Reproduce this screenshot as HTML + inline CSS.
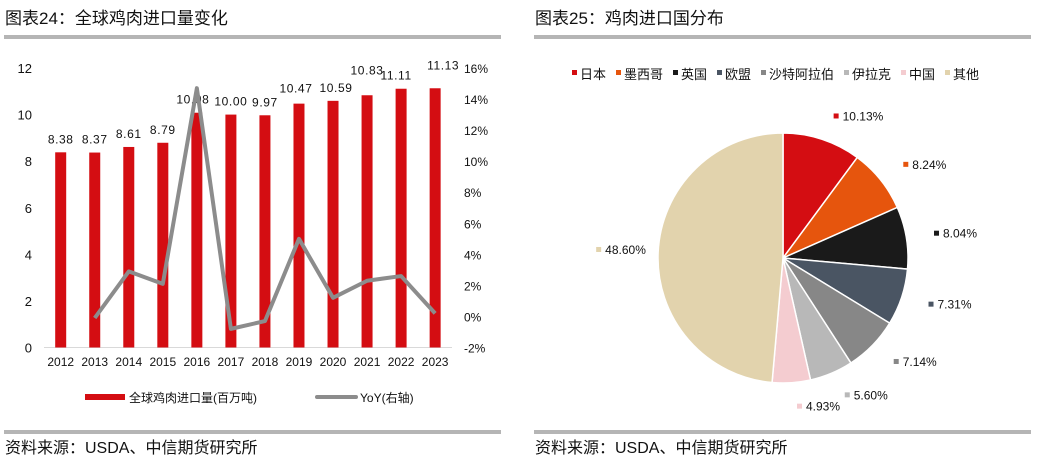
<!DOCTYPE html>
<html><head><meta charset="utf-8"><style>
body{margin:0;background:#fff;width:1037px;height:460px;overflow:hidden;font-family:"Liberation Sans","Noto Sans CJK SC",sans-serif}
svg text{font-family:"Liberation Sans","Noto Sans CJK SC",sans-serif}
</style></head><body>
<svg width="1037" height="460">
<text x="5" y="24" font-size="17" fill="#111">图表24：全球鸡肉进口量变化</text>
<rect x="4" y="35" width="497" height="4" fill="#b5b5b5"/>
<text x="535" y="24" font-size="17" fill="#111">图表25：鸡肉进口国分布</text>
<rect x="534" y="35" width="497" height="4" fill="#b5b5b5"/>
<rect x="4" y="430" width="497" height="4" fill="#b5b5b5"/>
<rect x="534" y="430" width="497" height="4" fill="#b5b5b5"/>
<text x="5" y="453" font-size="16" fill="#111">资料来源：USDA、中信期货研究所</text>
<text x="535" y="453" font-size="16" fill="#111">资料来源：USDA、中信期货研究所</text>
<g id="bar"></g>
<g id="pie"></g>
<g>
<rect x="85" y="394" width="40" height="6" fill="#d40d12"/>
<text x="129" y="402" font-size="12" fill="#111">全球鸡肉进口量(百万吨)</text>
<line x1="317" y1="397" x2="356" y2="397" stroke="#8c8c8c" stroke-width="4" stroke-linecap="round"/>
<text x="360" y="402" font-size="12" fill="#111">YoY(右轴)</text>
</g>
</svg>
<script>
const years=['2012','2013','2014','2015','2016','2017','2018','2019','2020','2021','2022','2023'];
const volume=[8.38,8.37,8.61,8.79,10.08,10.00,9.97,10.47,10.59,10.83,11.11,11.13];
const volumeLabels=['8.38','8.37','8.61','8.79','10.08','10.00','9.97','10.47','10.59','10.83','11.11','11.13'];
const yoy=[null,-0.1,2.9,2.1,14.7,-0.8,-0.3,5.0,1.2,2.3,2.6,0.2];
const leftTicks=[0,2,4,6,8,10,12];
const rightTicks=[-2,0,2,4,6,8,10,12,14,16];
const pieNames=['日本','墨西哥','英国','欧盟','沙特阿拉伯','伊拉克','中国','其他'];
const pieValues=[10.13,8.24,8.04,7.31,7.14,5.60,4.93,48.60];
const pieColors=['#d40d12','#e6550d','#1a1a1a','#4a5563','#878787','#b8b8b8','#f4ccd0','#e2d3ad'];

const NS='http://www.w3.org/2000/svg';
function mk(p,t,a){const e=document.createElementNS(NS,t);for(const k in a)e.setAttribute(k,a[k]);p.appendChild(e);return e;}
const g=document.getElementById('bar');
const y0=347.5,yTop=68,x0=60.7,step=34.04;
const yL=v=>y0-(v/12)*(y0-yTop);
const yR=v=>y0-((v+2)/18)*(y0-yTop);
const xC=i=>x0+i*step;
const labDx=[0,0,0,0,-4,0,0,-3,3,0,-5,8];
const labDy=[0,0,0,0,0,0,0,-2,0,-12,0,-10];
leftTicks.forEach(t=>{const e=mk(g,'text',{x:32,y:yL(t)+5,'font-size':13,'text-anchor':'end',fill:'#111'});e.textContent=t;

});
rightTicks.forEach(t=>{const e=mk(g,'text',{x:464,y:yR(t)+5,'font-size':12,fill:'#111'});e.textContent=t+'%';

});
const ax=mk(g,'line',{x1:44,y1:y0,x2:452,y2:y0,stroke:'#d9d9d9','stroke-width':1});


years.forEach((y,i)=>{
const b=mk(g,'rect',{x:xC(i)-5.5,y:yL(volume[i]),width:11,height:y0-yL(volume[i]),fill:'#d40d12'});


const t=mk(g,'text',{x:xC(i),y:366,'font-size':12,'text-anchor':'middle',fill:'#111'});t.textContent=y;


const l=mk(g,'text',{x:xC(i)+labDx[i],y:yL(volume[i])-9+labDy[i],'font-size':12,'text-anchor':'middle',fill:'#111','letter-spacing':'0.6'});l.textContent=volumeLabels[i];


});
let d='';yoy.forEach((v,i)=>{if(v===null)return;d+=(d?'L':'M')+xC(i)+','+yR(v);});
const ln=mk(g,'path',{d:d,fill:'none',stroke:'#8c8c8c','stroke-width':4,'stroke-linejoin':'round'});



const pg=document.getElementById('pie');
const cx=783,cy=258,r=125;
const total=pieValues.reduce((a,b)=>a+b,0);
let a=0;
let lx=572;
pieNames.forEach((n,i)=>{
const s=mk(pg,'rect',{x:lx,y:70,width:5,height:5,fill:pieColors[i]});


const t=mk(pg,'text',{x:lx+8,y:79,'font-size':13,fill:'#111'});t.textContent=n;


lx+=8+n.length*13+10;
});
pieValues.forEach((v,i)=>{
const a1=a,a2=a+v/total*2*Math.PI;a=a2;
const p=t=>[cx+r*Math.sin(t),cy-r*Math.cos(t)];
const [x1,y1]=p(a1),[x2,y2]=p(a2);
const s=mk(pg,'path',{d:`M${cx},${cy}L${x1},${y1}A${r},${r} 0 ${a2-a1>Math.PI?1:0} 1 ${x2},${y2}Z`,fill:pieColors[i],stroke:'#fff','stroke-width':1.5});


const m=(a1+a2)/2,R=r+(i==7?58:24);
const lxp=cx+R*Math.sin(m)+(i==7?0:(Math.sin(m)>0?8:0)),lyp=cy-R*Math.cos(m);
const sw=mk(pg,'rect',{x:lxp-4,y:lyp-3,width:5,height:5,fill:pieColors[i]});


const t=mk(pg,'text',{x:lxp+5,y:lyp+4,'font-size':12,fill:'#111'});t.textContent=v.toFixed(2)+'%';


});
</script>
</body></html>
